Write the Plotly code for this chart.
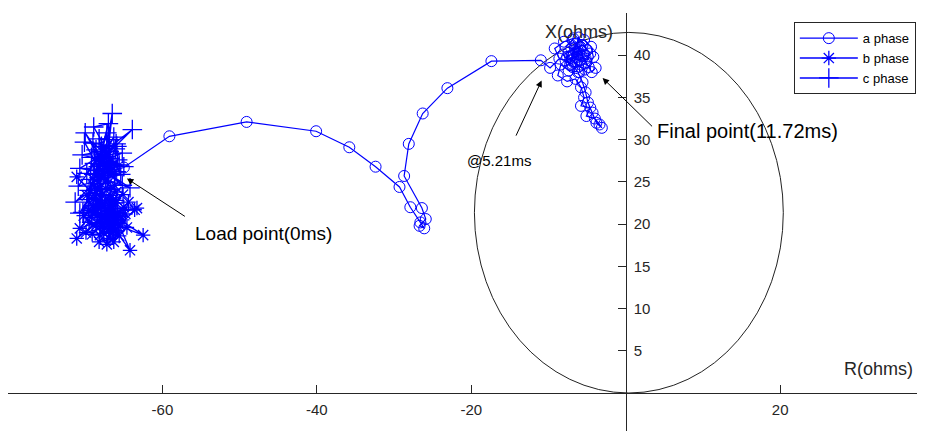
import plotly.graph_objects as go

# ---- data (R, X in ohms) ----
a_r = [-67.5, -66.2, -65.0, -59.1, -49.1, -40.1, -35.8, -32.4, -29.3, -27.9, -26.6, -26.1,
       -26.7, -25.9, -26.4, -28.7, -28.1, -26.3, -23.1, -17.4, -11.0,
       -9.8, -8.6, -9.2, -8.0, -6.8, -5.4, -4.5, -4.2, -4.8, -6.0, -7.4, -8.4, -8.8, -7.6,
       -6.5, -5.8, -5.4, -5.8, -4.6, -5.1, -4.0, -3.4, -3.1, -3.8, -4.3, -4.9, -5.2, -5.6,
       -6.2, -7.0, -6.0, -5.0, -5.6, -6.6, -7.4, -7.8, -6.9, -5.8, -5.2, -6.3, -7.0, -6.4,
       -5.5, -6.0, -6.8, -6.2, -7.8, -6.9, -5.1, -4.6, -6.1, -7.2, -8.1, -5.9, -6.7, -5.3,
       -7.6, -6.4, -5.7, -4.4, -3.9]
a_x = [27.8, 26.4, 26.7, 30.4, 32.1, 31.0, 29.1, 26.8, 24.4, 22.0, 20.2, 19.5,
       19.8, 20.6, 21.9, 25.7, 29.5, 33.1, 36.1, 39.3, 39.4,
       38.5, 39.6, 40.8, 41.6, 42.0, 41.8, 41.0, 39.8, 38.6, 38.0, 38.2, 38.9, 37.6, 36.9,
       37.2, 36.2, 35.0, 34.0, 33.8, 32.8, 32.5, 31.8, 31.4, 32.0, 33.2, 34.4, 35.6, 36.8,
       38.0, 39.0, 40.2, 40.6, 41.2, 40.9, 40.3, 39.4, 38.6, 38.9, 39.6, 39.8, 40.0, 41.4,
       40.0, 39.4, 39.6, 40.6, 41.0, 41.8, 39.2, 40.2, 42.1, 38.9, 40.1, 41.0, 39.1, 38.3,
       39.8, 40.4, 39.9, 38.0, 38.5]

b_r = [-66.0, -67.5, -71.1, -68.0, -68.1, -66.5, -64.2, -66.8, -62.5, -67.2, -63.6, -68.5,
       -70.7, -67.0, -66.8, -66.2, -71.1, -68.2, -65.5, -67.8, -69.2, -66.0, -68.8, -66.5,
       -65.0, -67.5, -69.0, -66.4, -67.3, -65.8, -68.4, -66.9, -67.7, -65.4, -68.9, -66.3,
       -63.3, -67.1, -69.6, -66.6, -67.9, -68.6, -66.1, -65.2, -67.4, -69.4, -66.7, -65.6,
       -68.2, -67.0, -64.8, -68.0, -66.2, -69.8, -67.6, -69.5, -64.6, -67.2, -65.9, -69.1,
       -64.4, -66.3, -70.2, -65.1, -67.9, -66.5, -68.7, -65.7, -69.9]
b_x = [22.5, 21.0, 18.3, 20.5, 18.7, 21.8, 16.9, 20.2, 18.7, 21.5, 21.7, 22.0,
       19.5, 20.8, 18.3, 21.0, 25.6, 22.8, 19.8, 23.5, 20.8, 23.8, 24.5, 20.0,
       22.0, 19.5, 22.2, 22.9, 20.6, 21.4, 21.0, 22.2, 20.0, 20.9, 23.0, 19.2,
       21.9, 21.2, 21.6, 22.4, 23.9, 19.8, 19.2, 20.5, 22.6, 21.6, 23.4, 18.6,
       17.9, 19.4, 21.2, 21.9, 24.6, 23.4, 18.9, 20.2, 19.6, 17.6, 22.8, 18.8,
       22.6, 17.9, 21.0, 23.5, 20.9, 19.0, 22.9, 20.1, 19.0]

c_r = [-65.0, -67.5, -66.5, -67.0, -63.9, -68.0, -70.0, -67.2, -67.2, -68.5, -69.0, -66.8,
       -65.2, -67.8, -70.7, -67.0, -64.2, -68.2, -71.3, -68.0, -70.7, -67.5, -65.2, -68.8,
       -66.0, -68.3, -69.5, -67.0, -66.2, -68.6, -67.6, -66.9, -68.1, -70.3, -67.4, -65.8,
       -68.9, -66.6, -68.4, -66.8, -67.9, -66.4, -69.2, -67.1, -68.7, -66.1, -67.7, -68.2,
       -66.9, -69.8, -67.3, -66.0, -68.0, -70.4, -65.6, -69.3, -66.3, -70.9, -65.4, -68.9,
       -67.0, -69.6, -66.7, -70.1, -65.9]
c_x = [26.8, 28.0, 33.1, 29.0, 31.2, 27.5, 30.8, 27.0, 30.8, 26.5, 29.6, 27.8,
       28.4, 28.2, 26.6, 26.0, 24.3, 25.5, 22.6, 24.8, 21.3, 26.5, 24.6, 27.2,
       29.5, 26.8, 24.0, 27.3, 25.8, 28.8, 26.2, 28.6, 27.0, 21.4, 25.0, 27.6,
       25.9, 26.9, 25.2, 26.4, 29.2, 27.1, 27.9, 25.6, 23.6, 28.9, 27.7, 30.1,
       30.0, 26.0, 24.2, 26.2, 28.6, 28.2, 27.0, 25.3, 30.3, 24.5, 25.9, 31.5,
       31.9, 22.9, 24.1, 29.7, 29.2]

# relay characteristic (bounding box of the circle, ohms)
circ_r0, circ_r1 = -19.6, 20.4
circ_x0, circ_x1 = 0.0, 42.7

x_ticks = [-80, -60, -40, -20, 20]
x_tick_text = ['', '-60', '-40', '-20', '20']
y_ticks = [5, 10, 15, 20, 25, 30, 35, 40, 45]
y_tick_text = ['5', '10', '15', '20', '25', '30', '35', '40', '']

x_range = [-80, 38.75]
y_range = [-4.5, 45]

BLUE = '#0000ff'
AX = '#262626'
FONT = 'Liberation Sans, Arial, sans-serif'

fig = go.Figure()
fig.add_trace(go.Scatter(x=a_r, y=a_x, mode='lines+markers', name='a phase',
                         line=dict(color=BLUE, width=1.2),
                         marker=dict(symbol='circle-open', size=11, color=BLUE,
                                     line=dict(width=1, color=BLUE))))
fig.add_trace(go.Scatter(x=b_r, y=b_x, mode='lines+markers', name='b phase',
                         line=dict(color=BLUE, width=1.4),
                         marker=dict(symbol='asterisk-open', size=12, color=BLUE,
                                     line=dict(width=1.3, color=BLUE))))
fig.add_trace(go.Scatter(x=c_r, y=c_x, mode='lines+markers', name='c phase',
                         line=dict(color=BLUE, width=1.4),
                         marker=dict(symbol='cross-thin-open', size=14, color=BLUE,
                                     line=dict(width=1.3, color=BLUE))))

fig.add_shape(type='circle', xref='x', yref='y', x0=circ_r0, x1=circ_r1,
              y0=circ_x0, y1=circ_x1, line=dict(color='#222222', width=1), layer='below')

arrow = dict(showarrow=True, arrowhead=2, arrowsize=1.3, arrowwidth=1, arrowcolor='black',
             axref='x', ayref='y', xref='x', yref='y', text='')
fig.add_annotation(x=-64.6, y=25.4, ax=-56.9, ay=20.8, **arrow)
fig.add_annotation(x=-10.9, y=37.0, ax=-14.3, ay=30.3, **arrow)
fig.add_annotation(x=-3.0, y=37.3, ax=3.6, ay=31.4, **arrow)

fig.add_annotation(x=-46.9, y=18.9, text='Load point(0ms)', showarrow=False,
                   font=dict(family=FONT, size=19, color='black'))
fig.add_annotation(x=-16.4, y=27.5, text='@5.21ms', showarrow=False,
                   font=dict(family=FONT, size=15, color='black'))
fig.add_annotation(x=15.8, y=31.0, text='Final point(11.72ms)', showarrow=False,
                   font=dict(family=FONT, size=20, color='black'))

lfont = dict(family=FONT, size=18, color=AX)
fig.add_annotation(x=37.5, y=2.9, text='R(ohms)', showarrow=False, font=lfont,
                   xanchor='right', yanchor='middle')
fig.add_annotation(x=-1.4, y=41.3, text='X(ohms)', showarrow=False, font=lfont,
                   xanchor='right', yanchor='bottom')

fig.update_layout(
    width=917, height=423,
    margin=dict(l=0, r=0, t=5, b=0),
    paper_bgcolor='white', plot_bgcolor='white',
    font=dict(family=FONT, color=AX),
    showlegend=True,
    legend=dict(x=0.990, y=0.978, xanchor='right', yanchor='top',
                bgcolor='white', bordercolor=AX, borderwidth=1,
                font=dict(family=FONT, size=13, color='black'), itemwidth=58,
                tracegroupgap=0),
    xaxis=dict(range=x_range, domain=[0, 1], anchor='free',
               position=(0 - y_range[0]) / (y_range[1] - y_range[0]),
               showline=True, linecolor=AX, linewidth=1, showgrid=False, zeroline=False,
               ticks='inside', ticklen=8, tickcolor=AX, side='bottom',
               tickvals=x_ticks, ticktext=x_tick_text, ticklabelstandoff=3,
               tickfont=dict(family=FONT, size=15, color=AX)),
    yaxis=dict(range=y_range, domain=[0, 1], anchor='free',
               position=(0 - x_range[0]) / (x_range[1] - x_range[0]),
               showline=True, linecolor=AX, linewidth=1, showgrid=False, zeroline=False,
               ticks='inside', ticklen=8, tickcolor=AX, side='right',
               tickvals=y_ticks, ticktext=y_tick_text, ticklabelstandoff=4,
               tickfont=dict(family=FONT, size=15, color=AX)),
)

fig.write_html('out.html')
